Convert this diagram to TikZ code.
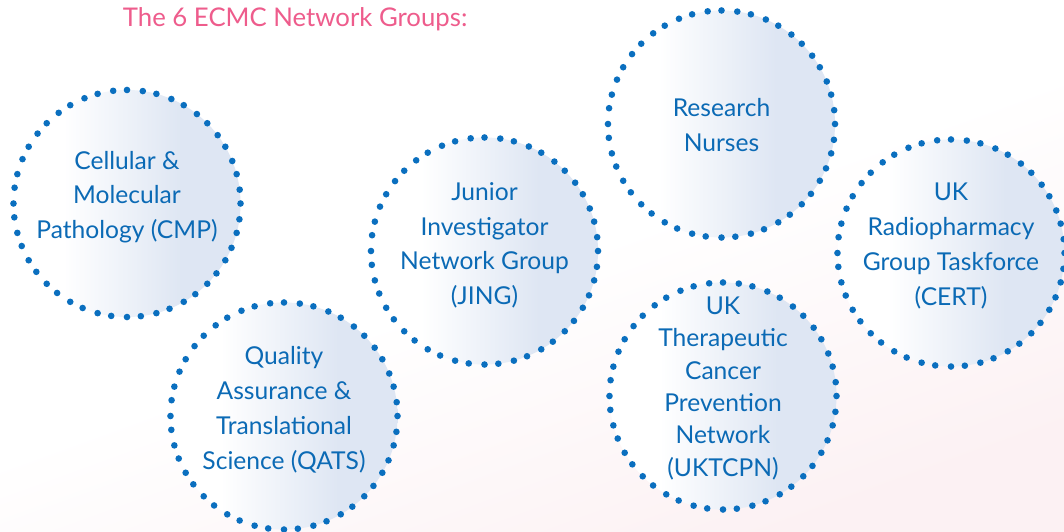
\documentclass[tikz,border=0pt]{standalone}
\usepackage{fontspec}
\setmainfont{Lato}
\usetikzlibrary{shapes,positioning}

\definecolor{dotblue}{HTML}{0A6FBF}
\definecolor{groupblue}{HTML}{0B6AB5}
\definecolor{groupfill}{HTML}{DEE6F3}
\definecolor{titlepink}{HTML}{EE5C8C}
\definecolor{paperpink}{HTML}{FCF1F3}

% white on the left, light blue from the middle on
\pgfdeclarehorizontalshading{groupshade}{100bp}{color(0bp)=(white); color(36bp)=(white); color(62bp)=(groupfill); color(100bp)=(groupfill)}
% faint pink creeping up from the lower right
\pgfdeclareverticalshading{papershade}{100bp}{color(0bp)=(paperpink); color(25bp)=(paperpink); color(50bp)=(white); color(100bp)=(white)}

\tikzset{
  group/.style={circle,shade,shading=groupshade,minimum size=5.675cm,inner sep=0pt,outer sep=0pt},
  grouptext/.style={align=center,text=groupblue,font=\fontsize{17.5}{24.8}\selectfont},
  groupdot/.style={fill=dotblue}
}

\begin{document}
\begin{tikzpicture}[x=0.025cm,y=-0.025cm]
\useasboundingbox (0,0) rectangle (1064,532);
\shade[shading=papershade,shading angle=20] (0,0) rectangle (1064,532);

\node[anchor=base west,text=titlepink,font=\fontsize{18.3}{22}\selectfont] (title) at (118,27) {The 6 ECMC Network Groups:};

\node[group] (cmp) at (127,203.5) {};
\node[group] (qats) at (284,416) {};
\node[group] (jing) at (484.5,251) {};
\node[group] (nurses) at (721.5,124) {};
\node[group] (uktcpn) at (723,396) {};
\node[group] (cert) at (951,253) {};

% dotted rims, 48 dots each
\foreach \g in {cmp,qats,jing,nurses,uktcpn,cert}
  \foreach \a in {0,7.5,...,352.5}
    \fill[groupdot] (\g.\a) circle (3.3);

\node[grouptext] (cmp-text) at ([yshift=4.5pt]cmp.center) {Cellular \&\\Molecular\\Pathology (CMP)};
\node[grouptext] (qats-text) at ([yshift=4.5pt]qats.center) {Quality\\Assurance \&\\Translational\\Science (QATS)};
\node[grouptext] (jing-text) at ([yshift=4pt]jing.center) {Junior\\Investigator\\Network Group\\(JING)};
\node[grouptext] (nurses-text) at ([yshift=-1pt]nurses.center) {Research\\Nurses};
\node[grouptext,font=\fontsize{17.5}{23}\selectfont] (uktcpn-text) at ([yshift=5.5pt]uktcpn.center) {UK\\Therapeutic\\Cancer\\Prevention\\Network\\(UKTCPN)};
\node[grouptext] (cert-text) at ([yshift=5pt]cert.center) {UK\\Radiopharmacy\\Group Taskforce\\(CERT)};
\end{tikzpicture}
\end{document}
